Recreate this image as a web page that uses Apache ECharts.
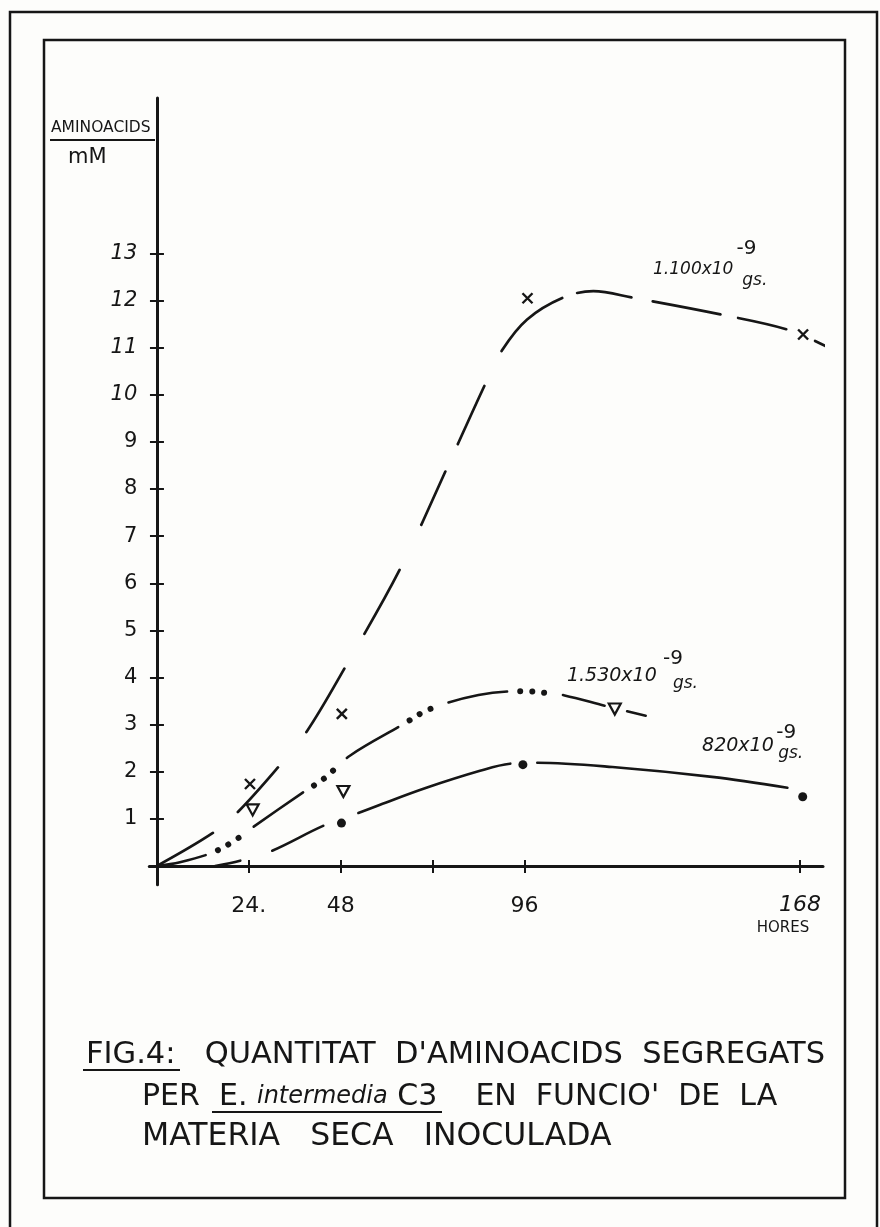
<!DOCTYPE html>
<html>
<head>
<meta charset="utf-8">
<script src="https://cdn.jsdelivr.net/npm/echarts@6/dist/echarts.min.js"></script>
<style>
html,body{margin:0;padding:0;background:#fdfdfb;}
#chart{width:880px;height:1227px;}
</style>
</head>
<body>
<div id="chart"></div>
<script>
// ---- tick values and labels ----
const hourTickValues = [24, 48, 72, 96, 168];
const hourLabelValues = [24, 48, 96, 168];
const hourLabelTexts = ['24.', '48', '96', '168'];
const hourUnit = 'HORES';
const mmTickValues = [1, 2, 3, 4, 5, 6, 7, 8, 9, 10, 11, 12, 13];
const mmTickLabels = ['1', '2', '3', '4', '5', '6', '7', '8', '9', '10', '11', '12', '13'];
const yTitle = 'AMINOACIDS';
const yUnit = 'mM';

// ---- series names ----
const seriesMass = ['1.100x10', '1.530x10', '820x10'];
const seriesExp = '-9';
const seriesMassUnit = 'gs.';

// ---- hand-drawn curves [hours, mM] ----
const curveA = [[0,0],[14.6,0.7],[21.2,1.15],[31.7,2.1],[39.1,2.85],[49.1,4.21],[63.5,6.3],[75.5,8.4],[85.6,10.2],[90.2,10.95],[96.7,11.6],[106,12.06],[114,12.2],[124.4,12.06],[147.6,11.7],[164.9,11.38],[175,11.02]];
const curveB = [[0,0],[6,0.08],[14.4,0.28],[20.1,0.53],[25.2,0.83],[37.8,1.54],[43.9,1.87],[50.4,2.34],[64,2.99],[71.3,3.33],[84,3.63],[95.3,3.71],[102,3.67],[106.5,3.62],[117.5,3.39],[128.2,3.18]];
const curveC = [[15.2,0],[21.7,0.11],[30,0.32],[43.4,0.85],[52.5,1.12],[58.3,1.3],[70,1.65],[84.4,2.02],[92.2,2.17],[99.2,2.19],[119,2.1],[145,1.89],[164.7,1.66]];

// ---- measured points [hours, mM] ----
const pointsA = [[24.3,1.74],[48.3,3.23],[96.8,12.05],[168.8,11.28]];
const pointsB = [[25,1.19],[48.7,1.58],[119.6,3.33]];
const pointsC = [[48.2,0.91],[95.6,2.15],[168.7,1.47]];

const INK = '#161616';
const FONT = 'DejaVu Sans';

const chart = echarts.init(document.getElementById('chart'), null, {renderer: 'canvas'});

function annot(coord, text, size, italic) {
  return {
    coord: coord,
    label: {
      show: true, position: 'right', distance: 0,
      formatter: text, color: INK, fontFamily: FONT,
      fontStyle: italic ? 'italic' : 'normal', fontSize: size
    }
  };
}

function curveSeries(data, width, dash, offset, extra) {
  return Object.assign({
    type: 'line', data: data, smooth: 0.35, showSymbol: false, symbol: 'none',
    silent: true, clip: false, z: 3,
    lineStyle: {color: INK, width: width, type: dash, dashOffset: offset || 0, cap: 'round'}
  }, extra || {});
}

function repeat(arr, n) { let out = []; for (let i = 0; i < n; i++) out = out.concat(arr); return out; }

const xName = (v) => {
  const i = hourLabelValues.indexOf(v);
  if (i < 0) return '';
  if (v === 168) return '{it|' + hourLabelTexts[i] + '}\n{h|' + hourUnit + '}';
  return '{n|' + hourLabelTexts[i] + '}';
};
const yName = (v) => {
  const i = mmTickValues.indexOf(v);
  if (i < 0) return '';
  return (v >= 10 ? '{it|' : '{n|') + mmTickLabels[i] + '}';
};

const capStyle = (size, italic) => ({fontFamily: FONT, fontSize: size, fontWeight: 'normal',
  fontStyle: italic ? 'italic' : 'normal', lineHeight: 36, color: INK});

const option = {
  backgroundColor: '#fdfdfb',
  animation: false,
  grid: {left: 149.3, right: 57, top: 98, bottom: 342.2, containLabel: false},
  title: [
    {text: yTitle, left: 51, top: 120, padding: 0,
     textStyle: {fontFamily: FONT, fontSize: 15.5, fontWeight: 'normal', color: INK}},
    {text: yUnit, left: 68, top: 147, padding: 0,
     textStyle: {fontFamily: FONT, fontSize: 21, fontWeight: 'normal', color: INK}},
    {text: '{t|FIG.4:   QUANTITAT  D\'AMINOACIDS  SEGREGATS}', left: 86, top: 1037, padding: 0,
     textStyle: {fontWeight: 'normal', rich: {t: capStyle(30.5)}}},
    {text: '{t|PER  E. }{i|intermedia}{t| C3    EN  FUNCIO\'  DE  LA}', left: 142, top: 1079, padding: 0,
     textStyle: {fontWeight: 'normal', rich: {t: capStyle(30), i: capStyle(24, true)}}},
    {text: '{t|MATERIA   SECA   INOCULADA}', left: 142, top: 1119, padding: 0,
     textStyle: {fontWeight: 'normal', rich: {t: capStyle(31.5)}}}
  ],
  graphic: [
    {type: 'rect', silent: true, shape: {x: 10, y: 12, width: 867, height: 1240},
     style: {fill: 'none', stroke: INK, lineWidth: 2.5}},
    {type: 'rect', silent: true, shape: {x: 44, y: 40, width: 801, height: 1158},
     style: {fill: 'none', stroke: INK, lineWidth: 2.5}},
    {type: 'line', silent: true, shape: {x1: 50, y1: 140, x2: 155, y2: 140},
     style: {stroke: INK, lineWidth: 2}},
    {type: 'line', silent: true, shape: {x1: 83, y1: 1070, x2: 180, y2: 1070},
     style: {stroke: INK, lineWidth: 2}},
    {type: 'line', silent: true, shape: {x1: 212, y1: 1112, x2: 442, y2: 1112},
     style: {stroke: INK, lineWidth: 2}}
  ],
  xAxis: [
    {type: 'value', min: -2, max: 174, position: 'bottom',
     axisLine: {show: true, onZero: true, onZeroAxisIndex: 0, lineStyle: {color: INK, width: 3}},
     axisTick: {show: true, inside: false, length: 7, customValues: hourTickValues, lineStyle: {color: INK, width: 2}},
     axisLabel: {show: true, margin: 8, customValues: hourLabelValues, formatter: xName,
       rich: {
         n: {fontFamily: FONT, fontSize: 22, lineHeight: 26, color: INK},
         it: {fontFamily: FONT, fontSize: 22, fontStyle: 'italic', lineHeight: 24, color: INK},
         h: {fontFamily: FONT, fontSize: 15, lineHeight: 22, color: INK, padding: [0, 34, 0, 0]}
       }},
     splitLine: {show: false}},
    {type: 'value', min: -2, max: 174, position: 'bottom',
     axisLine: {show: false, onZero: true, onZeroAxisIndex: 0},
     axisTick: {show: true, inside: true, length: 6, customValues: hourTickValues, lineStyle: {color: INK, width: 2}},
     axisLabel: {show: false},
     splitLine: {show: false}}
  ],
  yAxis: [
    {type: 'value', min: -0.4, max: 16.3, position: 'left',
     axisLine: {show: true, onZero: true, onZeroAxisIndex: 0, lineStyle: {color: INK, width: 3}},
     axisTick: {show: true, inside: false, length: 7, customValues: mmTickValues, lineStyle: {color: INK, width: 2}},
     axisLabel: {show: true, margin: 12, customValues: mmTickValues, formatter: yName,
       rich: {
         n: {fontFamily: FONT, fontSize: 21, color: INK},
         it: {fontFamily: FONT, fontSize: 21, fontStyle: 'italic', color: INK}
       }},
     splitLine: {show: false}},
    {type: 'value', min: -0.4, max: 16.3, position: 'left',
     axisLine: {show: false, onZero: true, onZeroAxisIndex: 0},
     axisTick: {show: true, inside: true, length: 7, customValues: mmTickValues, lineStyle: {color: INK, width: 2}},
     axisLabel: {show: false},
     splitLine: {show: false}}
  ],
  series: [
    curveSeries(curveA, 2.7,
      [65, 32.6, 60, 45.4, 74, 40, 73, 50, 58.6, 30, 64, 39, 82, 15.8, 55, 21.6, 69, 18, 49.5, 31, 11, 100], 0,
      {name: seriesMass[0], markPoint: {silent: true, symbol: 'circle', symbolSize: 0, data: [
        annot([129.6, 12.65], seriesMass[0], 17, true),
        annot([151.4, 13.1], seriesExp, 20, false),
        annot([152.9, 12.42], seriesMassUnit, 17, true)
      ]}}),
    curveSeries(curveB, 2.6, repeat([60, 56], 4).concat([43, 23, 19, 300]), 9.9,
      {name: seriesMass[1], markPoint: {silent: true, symbol: 'circle', symbolSize: 0, data: [
        annot([107.1, 4.03], seriesMass[1], 19, true),
        annot([132.2, 4.4], seriesExp, 20, false),
        annot([134.8, 3.88], seriesMassUnit, 17, true)
      ]}}),
    curveSeries(curveB, 6,
      repeat([0.01, 11.99, 0.01, 11.99, 0.01, 92], 4).concat([0.01, 11.99, 0.01, 11.99, 0.01, 3000]), 52.9,
      {name: seriesMass[1] + ' dots'}),
    curveSeries(curveC, 2.6, [25.7, 33.5, 56.8, 37.3, 160, 27, 255, 100], 0,
      {name: seriesMass[2], markPoint: {silent: true, symbol: 'circle', symbolSize: 0, data: [
        annot([142.4, 2.55], seriesMass[2], 19, true),
        annot([161.8, 2.82], seriesExp, 20, false),
        annot([162.3, 2.38], seriesMassUnit, 17, true)
      ]}}),
    {type: 'scatter', name: seriesMass[0] + ' points', data: pointsA, z: 5,
     symbol: 'path://M0,0L10,10M10,0L0,10', symbolSize: 10,
     itemStyle: {color: 'rgba(0,0,0,0)', borderColor: INK, borderWidth: 2.4, opacity: 1}},
    {type: 'scatter', name: seriesMass[1] + ' points', data: pointsB, z: 5,
     symbol: 'triangle', symbolRotate: 180, symbolSize: [12, 11],
     itemStyle: {color: '#fdfdfb', borderColor: INK, borderWidth: 2.2, opacity: 1}},
    {type: 'scatter', name: seriesMass[2] + ' points', data: pointsC, z: 5,
     symbol: 'circle', symbolSize: 9,
     itemStyle: {color: INK, opacity: 1}}
  ]
};
chart.setOption(option);
</script>
</body>
</html>
